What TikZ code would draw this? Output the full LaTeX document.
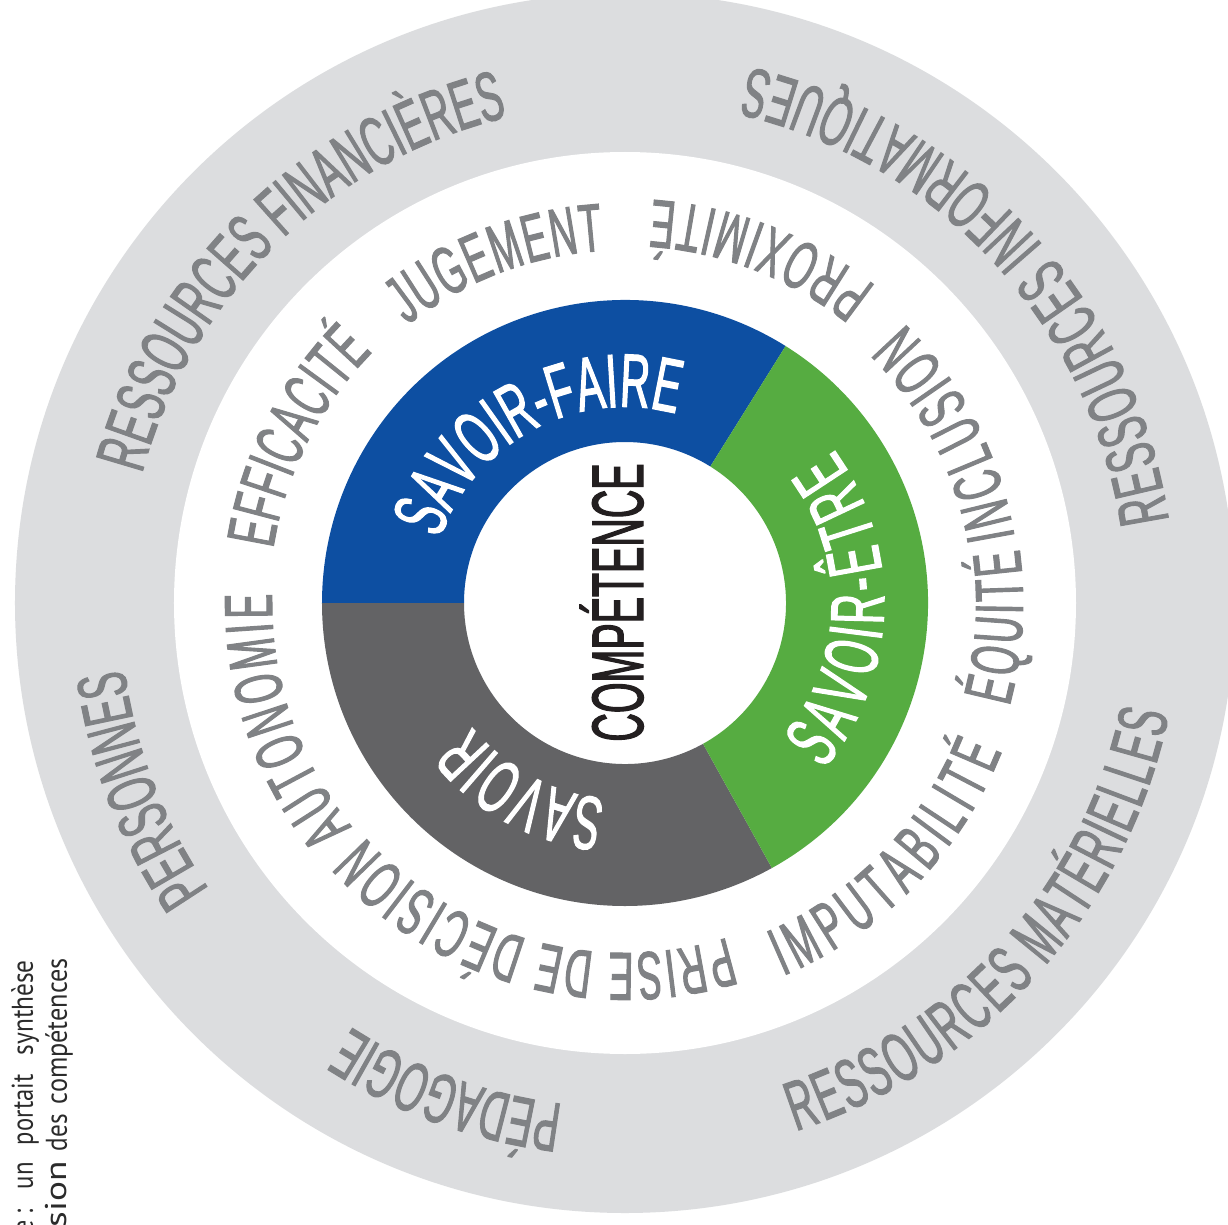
\documentclass[tikz,border=0pt]{standalone}
\usepackage{fontspec}
\usepackage{graphicx}
\usetikzlibrary{decorations.text}
\newfontfamily\labfont{Liberation Sans}[FakeStretch=0.54,FakeBold=1.5]
\newfontfamily\capfont{PT Sans}[FakeStretch=0.8]
\definecolor{ringgray}{HTML}{DCDDDF}
\definecolor{sfblue}{HTML}{0D4FA2}
\definecolor{segreen}{HTML}{56AC41}
\definecolor{sdgray}{HTML}{636365}
\definecolor{labgray}{HTML}{808285}
\definecolor{cblack}{HTML}{231F20}
\definecolor{capgray}{HTML}{2B2B2B}
% #1 radius #2 start #3 end #4 size #5 colour #6 raise #7 text
\newcommand{\arctext}[7]{%
  \path[decorate, decoration={text along path, text align=fit to path, raise=#6pt,
     text={|\labfont\fontsize{#4pt}{#4pt}\selectfont\color{#5}|#7}}]
     (#2:#1pt) arc[start angle=#2, end angle=#3, radius=#1pt];}
% a word set to a given length
\newsavebox{\fwbox}
\newcommand{\fitw}[2]{\sbox{\fwbox}{#2}\pgfmathsetmacro{\fws}{#1/\the\wd\fwbox}\scalebox{\fws}[1]{\usebox{\fwbox}}}
\begin{document}
\begin{tikzpicture}
\useasboundingbox (-625pt,-621pt) rectangle (603pt,603pt);
\fill[white] (-625pt,-621pt) rectangle (603pt,603pt);
\clip (-625pt,-621pt) rectangle (603pt,603pt);
% rings
\fill[ringgray] (0,0) circle[radius=610pt];
\fill[white] (0,0) circle[radius=451pt];
\fill[sfblue] (58:303pt) arc[start angle=58, end angle=180, radius=303pt]
   -- (180:161pt) arc[start angle=180, end angle=58, radius=161pt] -- cycle;
\fill[sdgray] (180:303pt) arc[start angle=180, end angle=299, radius=303pt]
   -- (299:161pt) arc[start angle=299, end angle=180, radius=161pt] -- cycle;
\fill[segreen] (-61:303pt) arc[start angle=-61, end angle=58, radius=303pt]
   -- (58:161pt) arc[start angle=58, end angle=-61, radius=161pt] -- cycle;
% outer ring labels
\arctext{500}{165}{103.6}{70}{labgray}{0}{RESSOURCES FINANCIÈRES}
\arctext{505}{214.5}{188}{70}{labgray}{0}{PERSONNES}
\arctext{505}{262.9}{237.2}{70}{labgray}{0}{PÉDAGOGIE}
\arctext{500}{8.5}{77}{70}{labgray}{-50}{RESSOURCES INFORMATIQUES}
\arctext{505}{-72.2}{-12.2}{70}{labgray}{-50}{RESSOURCES MATÉRIELLES}
% white ring labels
\arctext{356}{171.2}{135.2}{68}{labgray}{0}{EFFICACITÉ}
\arctext{353}{128}{93.5}{68}{labgray}{0}{JUGEMENT}
\arctext{353}{219.3}{178.5}{68}{labgray}{0}{AUTONOMIE}
\arctext{350}{287}{222}{68}{labgray}{0}{PRISE DE DÉCISION}
\arctext{355}{51.4}{86.3}{68}{labgray}{-49}{PROXIMITÉ}
\arctext{346}{9.5}{45.3}{68}{labgray}{-49}{INCLUSION}
\arctext{349}{-15.3}{8}{68}{labgray}{-49}{ÉQUITÉ}
\arctext{356}{-67.1}{-21.3}{68}{labgray}{-49}{IMPUTABILITÉ}
% coloured ring labels
\arctext{196}{160.9}{74.9}{76}{white}{0}{SAVOIR-FAIRE}
\arctext{197}{264.3}{218.7}{76}{white}{0}{SAVOIR}
\arctext{205}{-40.7}{35.2}{76}{white}{-54}{SAVOIR-ÊTRE}
% centre
\node (comp) [rotate=90, anchor=base, inner sep=0pt, text=cblack,
   font=\labfont\fontsize{73pt}{73pt}\selectfont] at (18pt,0.5pt) {COMPÉTENCE};
% caption (clipped by the page edge)
\node (capA) [rotate=90, anchor=base east, inner sep=0pt, text=capgray,
   font=\capfont\fontsize{30pt}{30pt}\selectfont]
   at (-592pt,-357pt) {e\hspace{6pt}:\hspace{20pt}\fitw{27}{un}\hspace{17pt}\fitw{71}{portait}\hspace{19pt}\fitw{95}{synthèse}};
\node (capB) [rotate=90, anchor=base east, inner sep=0pt, text=capgray,
   font=\capfont\fontsize{30pt}{30pt}\selectfont]
   at (-558pt,-355pt) {vi\fitw{66}{sion}\hspace{10pt}\fitw{37}{des}\hspace{10pt}\fitw{146}{compétences}};
\end{tikzpicture}
\end{document}
